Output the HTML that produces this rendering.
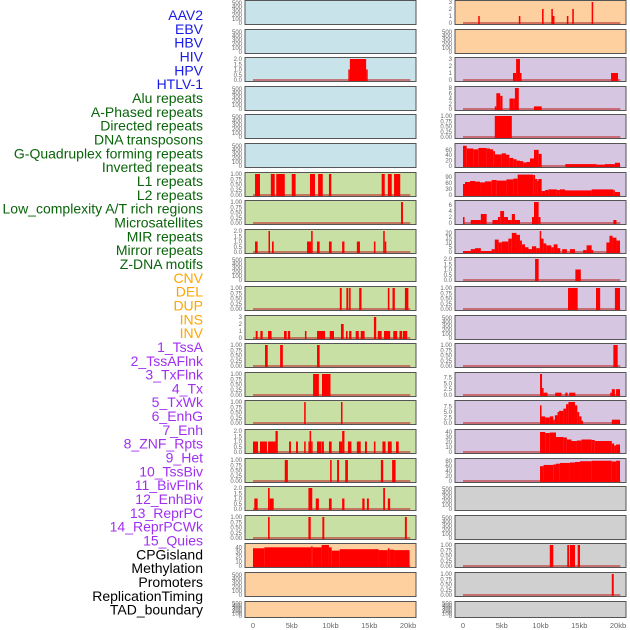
<!DOCTYPE html>
<html><head><meta charset="utf-8"><style>
html,body{margin:0;padding:0;background:#fff;}
svg{display:block;font-family:"Liberation Sans",sans-serif;}
</style></head><body>
<svg id="chart" width="630" height="630" viewBox="0 0 630 630"></svg>
<script>
const labels=["AAV2","EBV","HBV","HIV","HPV","HTLV-1","Alu repeats","A-Phased repeats","Directed repeats","DNA transposons","G-Quadruplex forming repeats","Inverted repeats","L1 repeats","L2 repeats","Low_complexity A/T rich regions","Microsatellites","MIR repeats","Mirror repeats","Z-DNA motifs","CNV","DEL","DUP","INS","INV","1_TssA","2_TssAFlnk","3_TxFlnk","4_Tx","5_TxWk","6_EnhG","7_Enh","8_ZNF_Rpts","9_Het","10_TssBiv","11_BivFlnk","12_EnhBiv","13_ReprPC","14_ReprPCWk","15_Quies","CPGisland","Methylation","Promoters","ReplicationTiming","TAD_boundary"];
const labelGroups=["v","v","v","v","v","v","r","r","r","r","r","r","r","r","r","r","r","r","r","s","s","s","s","s","c","c","c","c","c","c","c","c","c","c","c","c","c","c","c","k","k","k","k","k"];
const xTickLabels=["0","5kb","10kb","15kb","20kb"];
const xTickValues=[0,5,10,15,20];
const E=[0,100,200,300,400,500];
const T1=[0,0.25,0.5,0.75,1];
const leftBg=["b","b","b","b","b","b","g","g","g","g","g","g","g","g","g","g","g","g","g","o","o","o"];
const leftMax=[520,520,2,520,520,520,1,1,2,520,1,3,1,1,1,2,1,2,1,45,520,520];
const leftTicks=[E,E,[0,0.5,1,1.5,2],E,E,E,T1,T1,[0,0.5,1,1.5,2],E,T1,[0,1,2,3],T1,T1,T1,[0,0.5,1,1.5,2],T1,[0,0.5,1,1.5,2],T1,[0,10,20,30,40],E,E];
const leftSegs=[
[],[],[[12.3,12.5,1],[12.5,14.6,2],[14.6,14.8,1]],[],[],[],
[[0.26,0.9,1],[2.3,2.8,1],[3.0,4.1,1],[5.0,5.5,1],[7.35,8.0,1],[8.4,9.0,1],[9.8,10.1,1],[16.6,17.0,1],[17.4,17.9,1],[18.2,19.0,1]],
[[19.1,19.35,1]],
[[0.26,0.6,1],[2.0,2.15,2],[2.45,2.67,1],[6.97,7.5,1],[7.5,7.7,2],[8.26,8.6,1],[9.8,10.15,1],[11.5,11.8,1],[13.4,13.8,1],[15.6,15.8,1],[16.8,17.0,2],[17.0,17.2,1]],
[],
[[11.2,11.45,1],[12.05,12.3,1],[12.4,12.6,1],[13.7,14.0,1],[17.4,17.6,1],[18.0,18.3,1],[19.6,20.05,1]],
[[0.35,0.6,1],[0.95,1.25,1],[1.94,2.4,1],[4.0,4.35,1],[4.5,4.8,1],[6.7,6.9,1],[8.26,9.3,1],[9.9,10.45,1],[11.35,11.7,2],[12.0,12.2,1],[12.4,12.7,1],[13.25,13.65,1],[13.9,14.4,1],[15.6,15.9,3],[16.1,16.6,1],[16.9,17.7,1],[18.1,18.6,1],[18.9,19.25,1],[19.35,19.9,1]],
[[1.55,1.9,1],[3.5,3.85,1],[8.26,8.6,1]],
[[7.75,8.5,1],[8.9,10.0,1]],
[[6.6,6.8,1],[11.35,11.55,1]],
[[0,0.65,1],[0.9,1.8,1],[1.94,2.9,1],[2.9,3.2,2],[4.65,4.9,1],[5.55,5.8,1],[6.6,6.8,1],[7.15,7.3,1],[7.3,7.5,2],[7.5,7.65,1],[8.26,8.85,1],[8.9,9.15,1],[9.8,10.15,1],[11.1,11.5,1],[11.5,11.8,2],[12.25,12.7,1],[13.4,13.9,1],[14.45,14.7,1],[15.6,15.8,1],[16.7,17.1,1],[17.4,17.9,1],[18.45,18.8,1]],
[[4.1,4.5,1],[9.95,10.15,1],[10.85,11.1,1],[11.9,12.25,1],[16.5,16.8,1],[17.95,18.4,1]],
[[0.17,0.6,1],[1.94,2.15,2],[2.15,2.67,1],[7.15,7.65,2],[8.1,8.5,1],[9.8,10.15,1],[11.5,11.8,1],[14.1,14.4,1],[14.7,14.95,1],[16.8,17.03,2],[17.4,17.7,1]],
[[1.94,2.15,1],[7.15,7.45,1],[8.95,9.2,1],[19.6,19.85,1]],
[[0,1.46,38],[1.46,7.5,40],[7.5,7.7,42],[7.7,8.85,40],[8.85,9.8,45],[9.8,10.15,40],[10.15,11.2,33],[11.2,16.2,36],[16.2,17.4,34],[17.4,17.6,38],[17.6,18.2,35],[18.2,20.2,34]],
[],[]];
const rightBg=["o","o","p","p","p","p","p","p","p","p","p","p","p","p","p","p","p","y","y","y","y","y"];
const rightMax=[3,520,3,8,1,78,105,7,22,2,1,520,1,9,9.5,42,85,520,520,1,1,520];
const rightTicks=[[0,1,2,3],E,[0,1,2,3],[0,2,4,6,8],T1,[0,20,40,60],[0,30,60,90],[0,2,4,6],[0,5,10,15,20],[0,0.5,1,1.5,2],T1,E,T1,[0,2.5,5,7.5],[0,2.5,5,7.5],[0,10,20,30,40],[0,20,40,60,80],E,E,T1,T1,E];
const rightSegs=[
[[1.97,2.15,1],[7.2,7.4,1],[10.2,10.4,2],[11.4,11.55,2],[11.55,11.8,1],[13.4,13.6,1],[14.1,14.3,2],[16.6,16.8,3]],
[],
[[6.45,6.85,1],[6.85,7.35,3],[7.35,7.55,1],[19.1,20.0,1]],
[[4.1,4.3,1],[4.3,4.8,6],[4.8,5.1,5],[6.0,6.5,4],[6.5,6.7,4],[6.7,7.2,8],[9.15,10.15,1]],
[[4.1,6.3,1]],
[[0,0.48,75],[0.48,1.33,65],[1.33,1.98,62],[1.98,3.05,67],[3.05,3.48,65],[3.48,3.9,62],[3.9,4.13,55],[4.13,4.99,43],[4.99,5.55,47],[5.55,5.98,42],[5.98,6.5,30],[6.5,6.92,25],[6.92,7.35,20],[7.35,7.78,18],[7.78,8.2,13],[8.2,8.64,15],[8.64,9.16,28],[9.16,9.76,60],[9.76,10.15,45],[13.2,17.25,7],[17.25,18.3,5],[18.3,19.6,7],[19.6,20.26,12]],
[[0,0.26,55],[0.26,0.9,65],[0.9,1.55,70],[1.55,2.2,67],[2.2,2.84,63],[2.84,3.7,68],[3.7,4.35,75],[4.35,5.6,72],[5.6,6.5,78],[6.5,7.05,82],[7.05,9.07,102],[9.07,9.3,100],[9.3,9.6,80],[9.6,9.72,70],[9.72,10.15,80],[10.15,10.6,20],[10.6,11.0,25],[11.0,12.1,28],[12.1,12.5,25],[12.5,13.16,28],[13.16,16.6,23],[16.6,19.4,28],[19.4,19.6,24],[19.6,20.26,15]],
[[0,0.2,2],[1.0,2.3,1],[2.3,3.05,3],[3.8,4.5,1],[4.5,4.8,2],[4.8,5.3,4],[5.3,5.8,2],[5.8,6.3,1],[6.3,6.7,3],[6.7,7.35,1],[8.9,9.16,2],[9.16,9.76,7],[9.76,10.0,2],[19.4,19.8,1]],
[[0,1.0,1],[1.0,1.55,3],[1.55,2.3,4],[2.3,3.7,1],[3.7,4.1,3],[4.1,4.6,13],[4.6,5.0,10],[5.0,5.85,11],[5.85,6.3,14],[6.3,6.9,20],[6.9,7.35,18],[7.35,7.6,12],[7.6,8.0,8],[8.0,8.45,5],[8.45,8.9,3],[8.9,9.45,6],[9.45,9.9,4],[9.9,10.05,22],[10.05,10.4,14],[10.4,10.75,9],[10.75,11.4,7],[11.4,11.7,5],[11.7,12.2,8],[12.2,12.55,4],[12.8,13.4,3],[13.8,14.45,3],[15.5,15.95,2],[15.95,16.6,7],[16.6,16.8,2],[18.5,18.9,10],[18.9,19.3,17],[19.3,19.8,15],[19.8,20.26,12]],
[[9.3,9.76,2],[14.5,15.2,1]],
[[13.55,14.8,1],[17.16,17.7,1],[19.6,20.26,1]],
[],
[[19.4,19.96,1]],
[[9.94,10.2,9],[10.2,10.4,3],[10.4,10.9,1],[11.9,12.7,1],[13.2,13.5,1],[13.7,14.5,1],[19.0,19.2,1],[19.2,19.6,2.5],[19.75,20.26,2.5]],
[[9.94,10.1,8],[10.1,10.6,3],[10.6,11.2,2.5],[11.2,11.65,3],[11.65,11.85,1.5],[11.85,12.2,3.5],[12.2,12.4,5],[12.4,12.95,5.5],[12.95,13.3,6.5],[13.3,13.6,8.5],[13.6,14.45,9.5],[14.45,14.75,8],[14.75,15.0,5],[15.0,15.3,3],[15.3,15.5,1],[19.2,20.26,1.5]],
[[9.94,10.6,40],[10.6,11.2,38],[11.2,12.0,39],[12.0,12.95,30],[12.95,13.4,29],[13.4,14.0,25],[14.0,14.7,22],[14.7,15.3,23],[15.3,16.6,25],[16.6,17.0,24],[17.0,19.2,22],[19.2,19.5,17],[19.5,19.75,13],[19.75,20.26,15]],
[[9.94,10.4,60],[10.4,11.65,65],[11.65,12.0,67],[12.0,12.5,70],[12.5,13.8,73],[13.8,14.45,75],[14.45,15.1,77],[15.1,16.6,80],[16.6,19.2,82],[19.2,19.75,79],[19.75,20.26,82]],
[],[],
[[11.2,11.65,1],[13.45,13.7,1],[13.8,14.45,1],[14.8,15.1,1]],
[[19.2,19.45,1]],
[]];

const svg=document.getElementById('chart');
const NS='http://www.w3.org/2000/svg';
function mk(tag,attrs,parent){const e=document.createElementNS(NS,tag);for(const k in attrs)e.setAttribute(k,attrs[k]);(parent||svg).appendChild(e);return e;}
const colors={b:'#c8e3ea',g:'#c9e0a5',o:'#fecf9f',p:'#d6c6e2',y:'#d0d0d0'};
const lcol={v:'#1a1ae6',r:'#0a640a',s:'#ffa500',c:'#a030f0',k:'#000'};

// labels
labels.forEach((t,i)=>{
  const el=mk('text',{x:203,y:15+i*13.83+5,'text-anchor':'end','font-size':'14',fill:lcol[labelGroups[i]]});
  el.textContent=t;
  
  
});

function rowTop(i){return Math.round(i*28.6);}
function rowH(i){return i===21?17:25;}

function drawCol(side,px0,bgs,maxs,ticks,segs){
  const xs=kb=>px0+8+kb*7.75;
  for(let i=0;i<bgs.length;i++){
    const top=rowTop(i),h=rowH(i);
    const g=mk('g',{});
    
    
    mk('rect',{x:px0,y:top+0.5,width:171,height:h-1,fill:colors[bgs[i]],stroke:'#555','stroke-width':1},g);
    const bot=top+h-2, ph=h-4;
    const ys=v=>bot-v/maxs[i]*ph;
    ticks[i].forEach(tv=>{
      const tl=mk('text',{x:px0-3,y:ys(tv)+2,'text-anchor':'end','font-size':'6',fill:'#666'},g);
      tl.textContent=(maxs[i]<=1&&tv!==0)||(ticks[i]===T1)?tv.toFixed(2):(maxs[i]<=2.5||maxs[i]===9||maxs[i]===9.5)?tv.toFixed(1):String(tv);
      
      
    });
    if(segs[i].length){
      const bl=mk('line',{x1:xs(0),x2:xs(20.3),y1:bot,y2:bot,stroke:'rgba(190,50,50,0.6)','stroke-width':2},g);
      
      
      segs[i].forEach(s=>{
        const x1=xs(s[0]),w=Math.max(1.5,xs(s[1])-x1);
        const b=mk('rect',{x:x1,y:ys(s[2]),width:w,height:bot-ys(s[2])+1,fill:'#ff0000'},g);
        
        
      });
    }
  }
  xTickValues.forEach((v,j)=>{
    const t=mk('text',{x:xs(v),y:628,'text-anchor':'middle','font-size':'7.5',fill:'#666'});
    t.textContent=xTickLabels[j];
    
    
  });
}
drawCol('left',245,leftBg,leftMax,leftTicks,leftSegs);
drawCol('right',455,rightBg,rightMax,rightTicks,rightSegs);
</script>
</body></html>
